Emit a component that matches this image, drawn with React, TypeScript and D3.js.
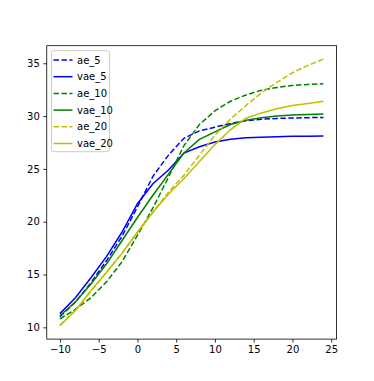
import React, { useEffect, useRef } from 'react';
import * as d3 from 'd3';

// x positions shared by every series
const xs = [-10, -8, -6, -4, -2, 0, 2, 4, 6, 8, 10, 12, 14, 16, 18, 20, 22, 24];

const ae5 = [11.0, 12.4, 14.2, 16.3, 18.6, 21.4, 24.3, 26.3, 27.9, 28.6, 28.95, 29.3, 29.55, 29.7, 29.78, 29.82, 29.85, 29.87];
const vae5 = [11.3, 12.8, 14.7, 16.7, 19.0, 21.7, 23.6, 24.9, 26.5, 27.1, 27.55, 27.8, 27.95, 28.0, 28.05, 28.08, 28.1, 28.12];
const ae10 = [10.8, 11.7, 12.8, 14.3, 16.2, 18.7, 21.3, 24.2, 27.2, 29.2, 30.5, 31.4, 32.0, 32.45, 32.7, 32.9, 33.0, 33.05];
const vae10 = [11.1, 12.4, 14.1, 16.0, 18.2, 20.4, 22.5, 24.5, 26.5, 27.8, 28.5, 29.2, 29.6, 29.85, 30.0, 30.1, 30.15, 30.2];
const ae20 = [10.2, 11.6, 13.4, 15.2, 17.0, 19.0, 20.9, 22.8, 24.4, 26.3, 28.2, 29.7, 31.0, 32.2, 33.2, 34.1, 34.8, 35.4];
const vae20 = [10.15, 11.6, 13.5, 15.2, 17.0, 19.0, 20.9, 22.6, 24.1, 25.7, 27.3, 28.7, 29.8, 30.3, 30.7, 31.0, 31.2, 31.4];

const xTicks = [-10, -5, 0, 5, 10, 15, 20, 25];
const yTicks = [10, 15, 20, 25, 30, 35];

const series = [
  { name: 'ae_5', values: ae5, color: '#0000ff', dashed: true },
  { name: 'vae_5', values: vae5, color: '#0000ff', dashed: false },
  { name: 'ae_10', values: ae10, color: '#008000', dashed: true },
  { name: 'vae_10', values: vae10, color: '#008000', dashed: false },
  { name: 'ae_20', values: ae20, color: '#bfbf00', dashed: true },
  { name: 'vae_20', values: vae20, color: '#bfbf00', dashed: false },
];

export default function App() {
  const ref = useRef<SVGSVGElement>(null);

  useEffect(() => {
    const svg = d3.select(ref.current);
    svg.selectAll('*').remove();

    const left = 46.75, right = 336.6, top = 45.7, bottom = 339.1;
    const font = 'DejaVu Sans, sans-serif';

    // matplotlib style 5% margins
    const allY = series.flatMap(s => s.values);
    const yMin = d3.min(allY)!, yMax = d3.max(allY)!;
    const xPad = (xs[xs.length - 1] - xs[0]) * 0.05;
    const yPad = (yMax - yMin) * 0.05;

    const x = d3.scaleLinear()
      .domain([xs[0] - xPad, xs[xs.length - 1] + xPad])
      .range([left, right]);
    const y = d3.scaleLinear()
      .domain([yMin - yPad, yMax + yPad])
      .range([bottom, top]);

    svg.append('rect')
      .attr('width', 374).attr('height', 381).attr('fill', 'white');

    const line = d3.line<number>()
      .x((d, i) => x(xs[i]))
      .y(d => y(d));

    series.forEach(s => {
      svg.append('path')
        .datum(s.values)
        .attr('fill', 'none')
        .attr('stroke', s.color)
        .attr('stroke-width', 1.5)
        .attr('stroke-dasharray', s.dashed ? '5.55,2.4' : null)
        .attr('d', line);
    });

    // axes
    const xAxis = svg.append('g')
      .attr('transform', `translate(0,${bottom})`)
      .call(d3.axisBottom(x).tickValues(xTicks).tickSize(3.5).tickPadding(3.5).tickFormat(d => String(d).replace('-', '\u2212')));
    const yAxis = svg.append('g')
      .attr('transform', `translate(${left},0)`)
      .call(d3.axisLeft(y).tickValues(yTicks).tickSize(3.5).tickPadding(3.5));

    [xAxis, yAxis].forEach(g => {
      g.select('.domain').remove();
      g.selectAll('line').attr('stroke', 'black').attr('stroke-width', 0.8);
      g.selectAll('text').attr('font-family', font).attr('font-size', 10).attr('fill', 'black');
    });

    svg.append('rect')
      .attr('x', left).attr('y', top)
      .attr('width', right - left).attr('height', bottom - top)
      .attr('fill', 'none').attr('stroke', 'black').attr('stroke-width', 0.8);

    // legend
    const legend = svg.append('g');
    legend.append('rect')
      .attr('x', 51.5).attr('y', 50.7)
      .attr('width', 58).attr('height', 101)
      .attr('rx', 2.5)
      .attr('fill', 'white').attr('fill-opacity', 0.8)
      .attr('stroke', '#cccccc').attr('stroke-width', 1);

    series.forEach((s, i) => {
      const cy = 60 + i * 16.7;
      legend.append('line')
        .attr('x1', 53.5).attr('x2', 72.5)
        .attr('y1', cy).attr('y2', cy)
        .attr('stroke', s.color).attr('stroke-width', 1.5)
        .attr('stroke-dasharray', s.dashed ? '5.55,2.4' : null);
      legend.append('text')
        .attr('x', 77).attr('y', cy)
        .attr('dy', '0.35em')
        .attr('font-family', font).attr('font-size', 10)
        .text(s.name);
    });
  }, []);

  return <svg ref={ref} width={374} height={381} style={{ display: 'block', margin: -8 }} />;
}
